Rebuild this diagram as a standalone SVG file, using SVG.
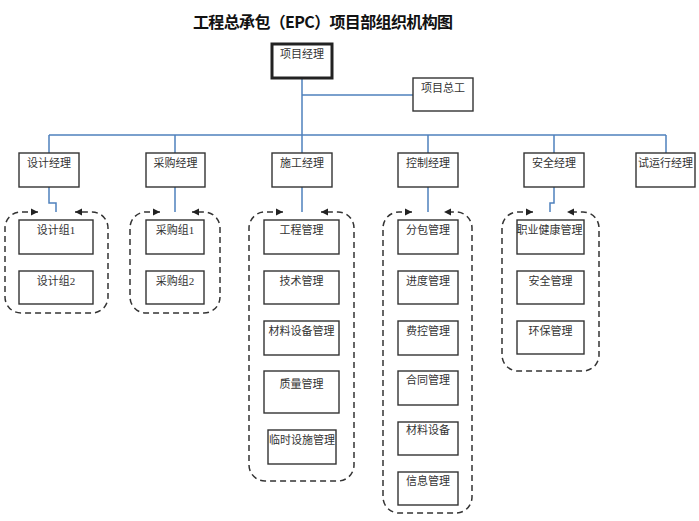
<svg xmlns="http://www.w3.org/2000/svg" width="699" height="521" viewBox="0 0 699 521">
<defs>
<style>
.box{fill:#fff;stroke:#333;stroke-width:1.4}
.boss{fill:#fff;stroke:#222;stroke-width:3}
.t{font-family:"Liberation Serif","Noto Sans CJK SC",serif;font-size:11px;fill:#333;text-anchor:middle}
.title{font-family:"Noto Sans CJK SC",sans-serif;font-size:16px;font-weight:bold;fill:#111;text-anchor:middle}
.con{fill:none;stroke:#4f81bd;stroke-width:1.5}
.grp{fill:none;stroke:#333;stroke-width:1.5;stroke-dasharray:6 4;marker-start:url(#ah);marker-end:url(#ah)}
</style>
<marker id="ah" markerUnits="userSpaceOnUse" markerWidth="8" markerHeight="8" refX="7" refY="4" orient="auto-start-reverse" viewBox="0 0 8 8">
<path d="M0,0.5 L7,4 L0,7.5 z" fill="#222"/>
</marker>
</defs>
<rect width="699" height="521" fill="#fff"/>
<text class="title" x="323" y="28" textLength="260">工程总承包（EPC）项目部组织机构图</text>

<g id="connectors">
<path class="con" d="M302,78 V135 M302,95 H413 M49,135 H666 M49,135 V153 M175,135 V153 M302,135 V153 M428,135 V153 M554,135 V153 M666,135 V153"/>
<path class="con" d="M49,187 V203 H56 V212 M175,187 V212 M302,187 V212 M428,187 V212 M554,187 V203 H550 V212"/>
<path class="grp" d="M38,212 H21 A16 16 0 0 0 5,228 V297 A16 16 0 0 0 21,313 H92 A16 16 0 0 0 108,297 V228 A16 16 0 0 0 92,212 H75"/>
<path class="grp" d="M160,212 H146 A16 16 0 0 0 130,228 V297 A16 16 0 0 0 146,313 H204 A16 16 0 0 0 220,297 V228 A16 16 0 0 0 204,212 H192"/>
<path class="grp" d="M283,212 H265 A16 16 0 0 0 249,228 V465 A16 16 0 0 0 265,481 H338 A16 16 0 0 0 354,465 V228 A16 16 0 0 0 338,212 H321"/>
<path class="grp" d="M412,212 H399 A16 16 0 0 0 383,228 V497 A16 16 0 0 0 399,513 H456 A16 16 0 0 0 472,497 V228 A16 16 0 0 0 456,212 H444"/>
<path class="grp" d="M533,212 H518 A16 16 0 0 0 502,228 V355 A16 16 0 0 0 518,371 H583 A16 16 0 0 0 599,355 V228 A16 16 0 0 0 583,212 H567"/>
</g>

<g id="pm"><rect class="boss" x="272" y="44" width="60" height="34"/><text class="t" x="302" y="58">项目经理</text></g>
<g id="zg"><rect class="box" x="413" y="78" width="60" height="33"/><text class="t" x="443" y="92">项目总工</text></g>

<g id="sjjl"><rect class="box" x="19" y="153" width="60" height="34"/><text class="t" x="49" y="167">设计经理</text></g>
<g id="cgjl"><rect class="box" x="146" y="153" width="59" height="34"/><text class="t" x="175.5" y="167">采购经理</text></g>
<g id="sgjl"><rect class="box" x="272" y="153" width="60" height="34"/><text class="t" x="302" y="167">施工经理</text></g>
<g id="kzjl"><rect class="box" x="398" y="153" width="60" height="34"/><text class="t" x="428" y="167">控制经理</text></g>
<g id="aqjl"><rect class="box" x="524" y="153" width="60" height="34"/><text class="t" x="554" y="167">安全经理</text></g>
<g id="syxjl"><rect class="box" x="636" y="153" width="59" height="34"/><text class="t" x="665.5" y="167">试运行经理</text></g>

<g id="sjz1"><rect class="box" x="19" y="220" width="74" height="34"/><text class="t" x="56" y="234">设计组1</text></g>
<g id="sjz2"><rect class="box" x="19" y="271" width="74" height="33"/><text class="t" x="56" y="285">设计组2</text></g>

<g id="cgz1"><rect class="box" x="146" y="220" width="58" height="34"/><text class="t" x="175" y="234">采购组1</text></g>
<g id="cgz2"><rect class="box" x="146" y="271" width="58" height="33"/><text class="t" x="175" y="285">采购组2</text></g>

<g id="gcgl"><rect class="box" x="264" y="220" width="75" height="34"/><text class="t" x="301.5" y="234">工程管理</text></g>
<g id="jsgl"><rect class="box" x="264" y="271" width="75" height="33"/><text class="t" x="301.5" y="285">技术管理</text></g>
<g id="clsbgl"><rect class="box" x="264" y="321" width="75" height="34"/><text class="t" x="301.5" y="335">材料设备管理</text></g>
<g id="zlgl"><rect class="box" x="264" y="371" width="75" height="42"/><text class="t" x="301.5" y="388">质量管理</text></g>
<g id="lsssgl"><rect class="box" x="268" y="430" width="68" height="34"/><text class="t" x="302" y="444">临时设施管理</text></g>

<g id="fbgl"><rect class="box" x="398" y="220" width="60" height="34"/><text class="t" x="428" y="234">分包管理</text></g>
<g id="jdgl"><rect class="box" x="398" y="271" width="60" height="33"/><text class="t" x="428" y="285">进度管理</text></g>
<g id="fkgl"><rect class="box" x="398" y="321" width="60" height="34"/><text class="t" x="428" y="335">费控管理</text></g>
<g id="htgl"><rect class="box" x="398" y="371" width="60" height="34"/><text class="t" x="428" y="384">合同管理</text></g>
<g id="clsb"><rect class="box" x="398" y="422" width="60" height="33"/><text class="t" x="428" y="434">材料设备</text></g>
<g id="xxgl"><rect class="box" x="398" y="472" width="60" height="33"/><text class="t" x="428" y="485">信息管理</text></g>

<g id="zyjkgl"><rect class="box" x="517" y="220" width="67" height="34"/><text class="t" x="549.5" y="234">职业健康管理</text></g>
<g id="aqgl"><rect class="box" x="517" y="271" width="67" height="33"/><text class="t" x="550.5" y="285">安全管理</text></g>
<g id="hbgl"><rect class="box" x="517" y="321" width="67" height="33"/><text class="t" x="550.5" y="335">环保管理</text></g>
</svg>
